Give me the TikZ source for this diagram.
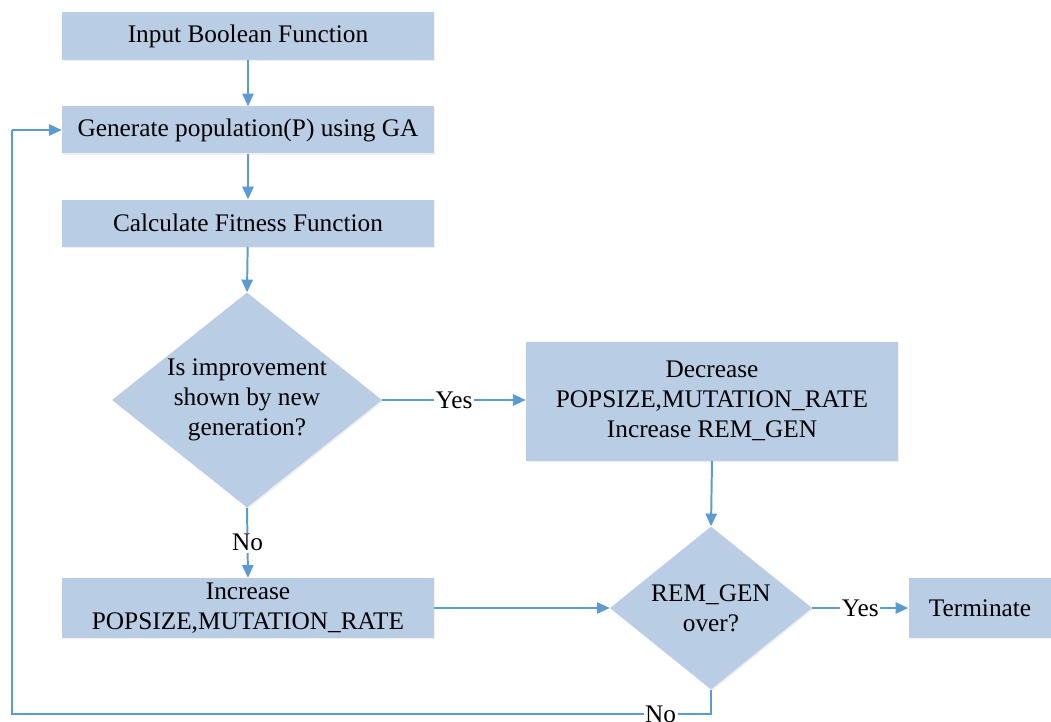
\documentclass[tikz,border=0pt]{standalone}
\usepackage{fontspec}
\setmainfont{Liberation Serif}
\usetikzlibrary{shapes.geometric,arrows.meta,shadows}
\definecolor{boxfill}{HTML}{B9CDE5}
\definecolor{linkblue}{HTML}{5B9BD5}
\begin{document}
\begin{tikzpicture}[x=0.025cm,y=-0.025cm,
  every node/.style={font=\fontsize{18}{21.3}\selectfont},
  procbox/.style={rectangle, fill=boxfill, inner sep=0pt, align=center,
    drop shadow={opacity=0.12, shadow xshift=1pt, shadow yshift=-1pt}},
  decision/.style={diamond, fill=boxfill, inner sep=0pt,
    drop shadow={opacity=0.12, shadow xshift=1pt, shadow yshift=-1pt}},
  link/.style={draw=linkblue, line width=1.4pt,
    -{Triangle[length=9pt,width=8pt]}},
  plain/.style={draw=linkblue, line width=1.4pt},
  tag/.style={fill=white, inner sep=1pt}]
\useasboundingbox (0,0) rectangle (1051,722);

% process boxes
\node[procbox, minimum width=372*0.025cm, minimum height=48*0.025cm] (input) at (248,36) {Input Boolean Function};
\node[procbox, minimum width=372*0.025cm, minimum height=47*0.025cm] (gen) at (248,130) {Generate population(P) using GA};
\node[procbox, minimum width=372*0.025cm, minimum height=47*0.025cm] (fit) at (248,223) {Calculate Fitness Function};
\node[procbox, minimum width=372*0.025cm, minimum height=119*0.025cm] (dec) at (712,401) {Decrease\\POPSIZE,MUTATION\_RATE\\Increase REM\_GEN};
\node[procbox, minimum width=372*0.025cm, minimum height=60*0.025cm] (inc) at (248,608) {Increase\\POPSIZE,MUTATION\_RATE};
\node[procbox, minimum width=143*0.025cm, minimum height=60*0.025cm] (term) at (980,608) {Terminate};

% decisions
\node[decision, minimum width=270*0.025cm, minimum height=215*0.025cm] (imp) at (247,400) {};
\node[align=center] (imptext) at (imp.center) {Is improvement\\shown by new\\generation?};
\node[decision, minimum width=202*0.025cm, minimum height=163*0.025cm] (rem) at (711,608) {};
\node[align=center] (remtext) at (rem.center) {REM\_GEN\\over?};

% connectors
\draw[link] (input) -- (gen);
\draw[link] (gen) -- (fit);
\draw[link] (fit) -- (imp.north);
\draw[link] (imp.east) -- node[tag] (yes1) {Yes} (dec.west |- imp.east);
\draw[link] (imp.south) -- node[tag] (no1) {No} (inc.north);
\draw[link] (dec.south) -- (rem.north);
\draw[link] (inc.east) -- (rem.west);
\draw[link] (rem.east) -- node[tag] (yes2) {Yes} (term.west);

% loop back to population generation
\coordinate (loopa) at (711,714);
\coordinate (loopb) at (12,714);
\coordinate (loopc) at (12,130);
\draw[plain] (rem.south) -- (loopa) -- node[tag, pos=0.072] (no2) {No} (loopb) -- (loopc);
\draw[link] (loopc) -- (gen.west);
\end{tikzpicture}
\end{document}
